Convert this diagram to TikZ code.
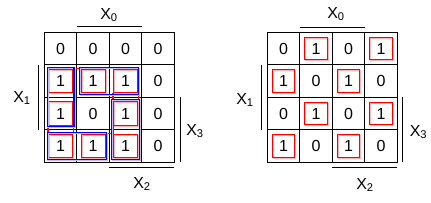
\documentclass[tikz,border=0pt]{standalone}
\usepackage{fontspec}
\setmainfont{Liberation Sans}
\usepackage{xcolor}
\usetikzlibrary{fit}

\begin{document}
\begin{tikzpicture}[x=1pt, y=-1pt]
	% Styles
	\tikzstyle{cell} = [draw, minimum size=32.5pt, inner sep=0pt, outer sep=0pt, line width=0.8pt, font=\fontsize{16}{19}\selectfont]
	\tikzstyle{pick} = [draw=red, line width=1.2pt, minimum width=24pt, minimum height=23.5pt, inner sep=0pt, preaction={draw=red!30, transform canvas={shift={(0.9pt,-0.9pt)}}}]
	\tikzstyle{group} = [draw=blue, line width=1.2pt, inner sep=0pt, outer sep=0pt, preaction={draw=blue!25, transform canvas={shift={(0.9pt,-0.9pt)}}}]
	\tikzstyle{link} = [red, line width=1.2pt]
	\tikzstyle{bar} = [line width=0.8pt]
	\tikzstyle{var} = [inner sep=0pt, font=\fontsize{16}{19}\selectfont]

	\useasboundingbox (0,0) rectangle (431,203);

	% Left map
	\node (l11) [cell] at (60.6, 48.5) {0};
	\node (l12) [cell] at (93.1, 48.5) {0};
	\node (l13) [cell] at (125.6, 48.5) {0};
	\node (l14) [cell] at (158.1, 48.5) {0};
	\node (l21) [cell] at (60.6, 81) {1};
	\node (l22) [cell] at (93.1, 81) {1};
	\node (l23) [cell] at (125.6, 81) {1};
	\node (l24) [cell] at (158.1, 81) {0};
	\node (l31) [cell] at (60.6, 113.5) {1};
	\node (l32) [cell] at (93.1, 113.5) {0};
	\node (l33) [cell] at (125.6, 113.5) {1};
	\node (l34) [cell] at (158.1, 113.5) {0};
	\node (l41) [cell] at (60.6, 146) {1};
	\node (l42) [cell] at (93.1, 146) {1};
	\node (l43) [cell] at (125.6, 146) {1};
	\node (l44) [cell] at (158.1, 146) {0};

	% Right map
	\node (r11) [cell] at (283.6, 48.5) {0};
	\node (r12) [cell] at (316.1, 48.5) {1};
	\node (r13) [cell] at (348.6, 48.5) {0};
	\node (r14) [cell] at (381.1, 48.5) {1};
	\node (r21) [cell] at (283.6, 81) {1};
	\node (r22) [cell] at (316.1, 81) {0};
	\node (r23) [cell] at (348.6, 81) {1};
	\node (r24) [cell] at (381.1, 81) {0};
	\node (r31) [cell] at (283.6, 113.5) {0};
	\node (r32) [cell] at (316.1, 113.5) {1};
	\node (r33) [cell] at (348.6, 113.5) {0};
	\node (r34) [cell] at (381.1, 113.5) {1};
	\node (r41) [cell] at (283.6, 146) {1};
	\node (r42) [cell] at (316.1, 146) {0};
	\node (r43) [cell] at (348.6, 146) {1};
	\node (r44) [cell] at (381.1, 146) {0};

	% Red boxes round the ones
	\node (pl21) [pick] at (l21) {};
	\node (pl22) [pick] at (l22) {};
	\node (pl23) [pick] at (l23) {};
	\node (pl31) [pick] at (l31) {};
	\node (pl33) [pick] at (l33) {};
	\node (pl41) [pick] at (l41) {};
	\node (pl42) [pick] at (l42) {};
	\node (pl43) [pick] at (l43) {};
	\node (pr12) [pick, minimum size=22.5pt] at (r12) {};
	\node (pr14) [pick, minimum size=22.5pt] at (r14) {};
	\node (pr21) [pick, minimum size=22.5pt] at (r21) {};
	\node (pr23) [pick, minimum size=22.5pt] at (r23) {};
	\node (pr32) [pick, minimum size=22.5pt] at (r32) {};
	\node (pr34) [pick, minimum size=22.5pt] at (r34) {};
	\node (pr41) [pick, minimum size=22.5pt] at (r41) {};
	\node (pr43) [pick, minimum size=22.5pt] at (r43) {};

	% Red links between neighbouring boxes
	\draw [link] (pl21.north east) -- (pl22.north west);
	\draw [link] (pl21.south west) -- (pl31.north west);
	\draw [link] (pl31.south west) -- (pl41.north west);
	\draw [link] (pl31.south east) -- (pl41.north east);
	\draw [link] (pl23.south west) -- (pl33.north west);
	\draw [link] (pl23.south east) -- (pl33.north east);
	\draw [link] (pl33.south west) -- (pl43.north west);
	\draw [link] (pl42.north east) -- (pl43.north west);

	% Blue groups
	\node (g1) [group, fit={([shift={(2.8pt,-3pt)}]l21.north west) ([shift={(-2.8pt,3pt)}]l31.south east)}] {};
	\node (g2) [group, fit={([shift={(2.8pt,-3pt)}]l22.north west) ([shift={(-3.2pt,3pt)}]l23.south east)}] {};
	\node (g3) [group, fit={([shift={(2.8pt,-2.8pt)}]l41.north west) ([shift={(-2.8pt,2.8pt)}]l42.south east)}] {};
	\node (g4) [group, fit={([shift={(2.5pt,-2.5pt)}]l33.north west) ([shift={(-2.5pt,2.8pt)}]l43.south east)}] {};

	% Variable bars and labels, left map
	\draw [bar] ([yshift=6pt]l12.north west) -- ([yshift=6pt]l13.north east);
	\draw [bar] ([xshift=-6pt]l21.north west) -- ([xshift=-6pt]l31.south west);
	\draw [bar] ([xshift=6pt]l34.north east) -- ([xshift=6pt]l44.south east);
	\draw [bar] ([yshift=-5.5pt]l43.south west) -- ([yshift=-5.5pt]l44.south east);
	\node (x0l) [var] at (109, 15) {X\textsubscript{0}};
	\node (x1l) [var] at (22, 98) {X\textsubscript{1}};
	\node (x3l) [var] at (195, 131) {X\textsubscript{3}};
	\node (x2l) [var] at (142, 184) {X\textsubscript{2}};

	% Variable bars and labels, right map
	\draw [bar] ([yshift=5pt]r12.north west) -- ([yshift=5pt]r13.north east);
	\draw [bar] ([xshift=-5.5pt]r21.north west) -- ([xshift=-5.5pt]r31.south west);
	\draw [bar] ([xshift=5pt]r34.north east) -- ([xshift=5pt]r44.south east);
	\draw [bar] ([yshift=-5pt]r43.south west) -- ([yshift=-5pt]r44.south east);
	\node (x0r) [var] at (336, 14) {X\textsubscript{0}};
	\node (x1r) [var] at (245, 100) {X\textsubscript{1}};
	\node (x3r) [var] at (418.5, 132) {X\textsubscript{3}};
	\node (x2r) [var] at (365, 185) {X\textsubscript{2}};

\end{tikzpicture}
\end{document}
